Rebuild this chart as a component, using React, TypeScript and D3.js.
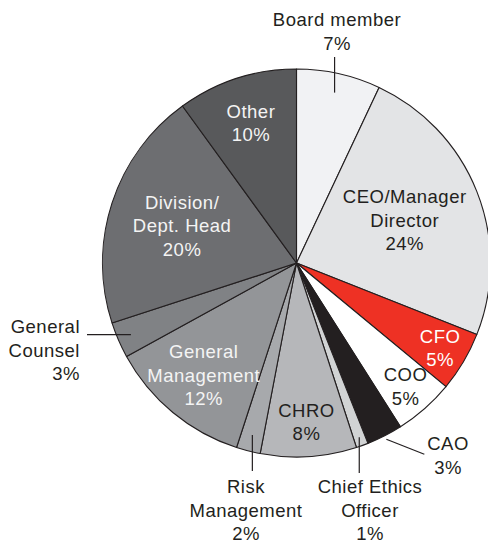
import React from 'react';
import * as d3 from 'd3';

const width = 488;
const height = 548;

// slices clockwise from 12 o'clock
const categories = [
  'Board member', 'CEO/Manager Director', 'CFO', 'COO', 'CAO', 'Chief Ethics Officer',
  'CHRO', 'Risk Management', 'General Management', 'General Counsel', 'Division/Dept. Head', 'Other',
];
const shares = [7, 24, 5, 5, 3, 1, 8, 2, 12, 3, 20, 10];
const labelLines = [
  ['Board member'], ['CEO/Manager', 'Director'], ['CFO'], ['COO'], ['CAO'], ['Chief Ethics', 'Officer'],
  ['CHRO'], ['Risk', 'Management'], ['General', 'Management'], ['General', 'Counsel'], ['Division/', 'Dept. Head'], ['Other'],
];
const fills = [
  '#f1f2f4', '#e3e4e6', '#ee3124', '#ffffff', '#231f20', '#d1d3d4',
  '#b6b7ba', '#a7a9ac', '#939598', '#808285', '#6d6e71', '#58595b',
];

const cx = 296.5;
const cy = 263;
const r = 194;
const lh = 23.5;
const dark = '#231f20';

// label layout: inside labels sit at k*r on the mid angle; outside ones get a leader line
type Lay =
  | { kind: 'in'; k: number; color: string }
  | { kind: 'out'; k: number; lead: (p: [number, number]) => [number, number]; text: [number, number]; anchor: string };

const layout: Lay[] = [
  { kind: 'out', k: 0.9, lead: p => [p[0], cy - r - 12], text: [337, 26], anchor: 'middle' },
  { kind: 'in', k: 0.6, color: dark },
  { kind: 'in', k: 0.86, color: '#ffffff' },
  { kind: 'in', k: 0.85, color: dark },
  { kind: 'out', k: 1.02, lead: p => [p[0] + 38, p[1] + 15], text: [448, 450], anchor: 'middle' },
  { kind: 'out', k: 0.955, lead: p => [p[0], 473], text: [370, 493], anchor: 'middle' },
  { kind: 'in', k: 0.82, color: dark },
  { kind: 'out', k: 0.915, lead: p => [p[0], 471], text: [246, 493], anchor: 'middle' },
  { kind: 'in', k: 0.75, color: '#f4f4f4' },
  { kind: 'out', k: 0.93, lead: p => [87, p[1]], text: [80, 333], anchor: 'end' },
  { kind: 'in', k: 0.62, color: '#f4f4f4' },
  { kind: 'in', k: 0.76, color: '#f4f4f4' },
];

export default function App() {
  const pie = d3.pie<number>().value(d => d).sort(null).startAngle(0).endAngle(2 * Math.PI);
  const arcs = pie(shares);
  const arc = d3.arc<d3.PieArcDatum<number>>().innerRadius(0).outerRadius(r);

  const polar = (a: number, rad: number): [number, number] => [cx + rad * Math.sin(a), cy - rad * Math.cos(a)];

  return (
    <svg width={width} height={height} style={{ position: 'absolute', left: 0, top: 0, background: '#fff' }}
      fontFamily="'Liberation Sans', Arial, sans-serif" fontSize={18.5} letterSpacing={0.5}>
      <g transform={`translate(${cx},${cy})`}>
        {arcs.map((a, i) => (
          <path key={categories[i]} d={arc(a) || ''} fill={fills[i]} stroke={dark} strokeWidth={1.1} strokeLinejoin="round" />
        ))}
      </g>
      {arcs.map((a, i) => {
        const L = layout[i];
        const mid = (a.startAngle + a.endAngle) / 2;
        const lines = [...labelLines[i], `${shares[i]}%`];
        if (L.kind === 'in') {
          const [x, y] = polar(mid, L.k * r);
          const y0 = y + 6.5 - ((lines.length - 1) * lh) / 2;
          return (
            <text key={i} x={x} textAnchor="middle" fill={L.color}>
              {lines.map((t, j) => <tspan key={j} x={x} y={y0 + j * lh}>{t}</tspan>)}
            </text>
          );
        }
        const p0 = polar(mid, L.k * r);
        const p1 = L.lead(p0);
        return (
          <g key={i}>
            <line x1={p0[0]} y1={p0[1]} x2={p1[0]} y2={p1[1]} stroke={dark} strokeWidth={1.2} />
            <text x={L.text[0]} textAnchor={L.anchor} fill={dark}>
              {lines.map((t, j) => <tspan key={j} x={L.text[0]} y={L.text[1] + j * lh}>{t}</tspan>)}
            </text>
          </g>
        );
      })}
    </svg>
  );
}
